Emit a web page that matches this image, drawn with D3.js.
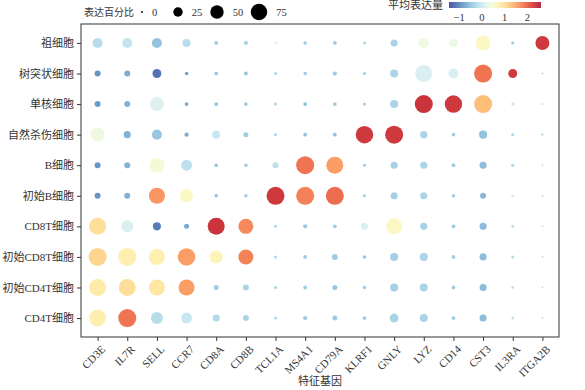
<!DOCTYPE html>
<html>
<head>
<meta charset="utf-8">
<script src="https://cdn.jsdelivr.net/npm/d3@7"></script>
<style>
  body { margin: 0; background: #fff; }
  text { font-family: "Liberation Serif", "Noto Sans CJK SC", serif; fill: #333; }
</style>
</head>
<body>
<svg id="drawing_region"></svg>
<script>
const genes = ['CD3E','IL7R','SELL','CCR7','CD8A','CD8B','TCL1A','MS4A1','CD79A','KLRF1','GNLY','LYZ','CD14','CST3','IL3RA','ITGA2B'];
const cells = ['祖细胞','树突状细胞','单核细胞','自然杀伤细胞','B细胞','初始B细胞','CD8T细胞','初始CD8T细胞','初始CD4T细胞','CD4T细胞'];

// percent of cells expressing, one row per cell type
const pct = [
  [28, 28, 28, 18, 4, 5, 1, 3.5, 4, 2.5, 14, 28, 18, 62, 2.5, 54],
  [10, 10, 22, 3.5, 3.5, 4, 2.5, 3.5, 5, 2.5, 18, 80, 28, 90, 22, 1],
  [10, 10, 54, 4, 4, 4, 2.5, 4, 4, 2.5, 18, 90, 85, 90, 2.5, 1],
  [54, 14, 28, 5, 18, 7, 2.5, 4, 4, 85, 90, 15, 3.5, 18, 2.5, 1.5],
  [10, 10, 62, 33, 3.5, 3.5, 10, 90, 80, 2.5, 14, 14, 4, 14, 2.5, 1],
  [10, 10, 71, 47, 3.5, 3.5, 90, 90, 90, 2.5, 14, 14, 3.5, 10, 2.5, 1],
  [80, 40, 18, 7, 80, 62, 2.5, 5, 4, 14, 71, 14, 4, 14, 2, 1],
  [90, 90, 71, 85, 47, 62, 2.5, 4, 10, 3.5, 18, 18, 4, 14, 2.5, 1],
  [80, 80, 71, 71, 7, 10, 2.5, 4, 7, 3.5, 18, 18, 4, 14, 2, 1],
  [80, 90, 40, 33, 14, 10, 2.5, 5, 7, 4, 22, 18, 4, 14, 2, 1]
];

// mean expression (scaled)
const expr = [
  [-0.2, -0.1, -0.5, -0.2, -0.4, -0.3, 0.0, -0.4, -0.4, -0.3, -0.3, 0.35, 0.3, 0.6, -0.4, 2.3],
  [-0.9, -0.7, -1.15, -0.8, -0.5, -0.5, -0.3, -0.4, -0.4, -0.4, -0.3, 0.1, 0.1, 1.85, 2.3, -0.2],
  [-0.85, -0.65, 0.15, -0.7, -0.5, -0.4, -0.3, -0.5, -0.4, -0.4, -0.3, 2.35, 2.3, 1.3, -0.1, -0.2],
  [0.35, -0.65, -0.45, -0.7, -0.05, -0.4, -0.3, -0.5, -0.5, 2.3, 2.3, -0.3, -0.4, -0.5, -0.3, -0.2],
  [-0.9, -0.65, 0.45, -0.15, -0.5, -0.4, -0.15, 1.85, 1.55, -0.4, -0.35, -0.3, -0.4, -0.55, -0.3, -0.2],
  [-0.9, -0.65, 1.6, 0.6, -0.5, -0.4, 2.3, 1.75, 1.9, -0.4, -0.35, -0.3, -0.4, -0.6, 0.05, -0.2],
  [1.0, 0.1, -1.1, -0.7, 2.35, 1.7, -0.3, -0.4, -0.4, 0.1, 0.6, -0.35, -0.4, -0.55, -0.2, -0.15],
  [1.1, 0.8, 0.8, 1.55, 0.7, 1.75, -0.3, -0.4, -0.4, -0.45, -0.35, -0.3, -0.4, -0.55, -0.25, -0.15],
  [0.85, 1.0, 0.9, 1.55, -0.4, -0.3, -0.3, -0.4, -0.45, -0.4, -0.35, -0.3, -0.4, -0.55, -0.2, -0.15],
  [0.8, 1.85, -0.2, -0.05, -0.25, -0.3, -0.3, -0.4, -0.4, -0.4, -0.3, -0.3, -0.4, -0.55, -0.2, -0.15]
];

const sizeTicks = [0, 25, 50, 75];
const colorTicks = [-1, 0, 1, 2];
const colorDomain = [-1.45, 2.6];

const width = 585, height = 390;
const margin = {top: 24, right: 26, bottom: 53, left: 81};
const innerW = width - margin.left - margin.right;
const innerH = height - margin.top - margin.bottom;

const svg = d3.select('#drawing_region')
    .attr('width', width)
    .attr('height', height);

const chart = svg.append('g')
    .attr('transform', `translate(${margin.left}, ${margin.top})`);

const xscale = d3.scalePoint().domain(genes).range([0, innerW]).padding(0.56);
const yscale = d3.scalePoint().domain(cells).range([0, innerH]).padding(0.62);
const rscale = d3.scaleSqrt().domain([0, 100]).range([0, 9.5]);
const cscale = d3.scaleSequential(t => d3.interpolateRdYlBu(1 - t)).domain(colorDomain);

const data = [];
cells.forEach((c, i) => genes.forEach((g, j) => {
    data.push({cell: c, gene: g, pct: pct[i][j], expr: expr[i][j]});
}));

chart.selectAll('circle.dot')
    .data(data)
    .enter()
    .append('circle')
    .attr('class', 'dot')
    .attr('cx', d => xscale(d.gene))
    .attr('cy', d => yscale(d.cell))
    .attr('r', d => Math.max(rscale(d.pct), 0.8))
    .attr('fill', d => cscale(d.expr))
    .attr('fill-opacity', 0.9);

// frame
chart.append('rect')
    .attr('width', innerW)
    .attr('height', innerH)
    .attr('fill', 'none')
    .attr('stroke', '#333')
    .attr('stroke-width', 1);

// axes
const xaxis = d3.axisBottom(xscale).tickSize(4).tickSizeOuter(0);
const yaxis = d3.axisLeft(yscale).tickSize(4).tickSizeOuter(0);

const xg = chart.append('g')
    .attr('transform', `translate(0, ${innerH})`)
    .call(xaxis);
xg.select('.domain').remove();
xg.selectAll('line').attr('stroke', '#333');
xg.selectAll('text')
    .attr('font-size', 11)
    .attr('fill', '#222')
    .attr('text-anchor', 'end')
    .attr('dx', 0)
    .attr('dy', 0)
    .attr('transform', 'translate(3, 8) rotate(-45)');

const yg = chart.append('g').call(yaxis);
yg.select('.domain').remove();
yg.selectAll('line').attr('stroke', '#333');
yg.selectAll('text').attr('font-size', 11).attr('fill', '#222').attr('x', -7);

chart.append('text')
    .attr('x', innerW / 2)
    .attr('y', innerH + 48)
    .attr('text-anchor', 'middle')
    .attr('font-size', 11)
    .text('特征基因');

// size legend
const sizeLegend = svg.append('g').attr('transform', 'translate(0, 12)');
sizeLegend.append('text')
    .attr('x', 84).attr('y', 0).attr('dy', '0.35em')
    .attr('font-size', 10)
    .text('表达百分比');
const sizePos = [142, 178, 217, 259];
sizeLegend.selectAll('circle')
    .data(sizeTicks)
    .enter()
    .append('circle')
    .attr('cx', (d, i) => sizePos[i])
    .attr('cy', 0)
    .attr('r', d => Math.max(rscale(d), 0.9))
    .attr('fill', '#000');
sizeLegend.selectAll('text.lbl')
    .data(sizeTicks)
    .enter()
    .append('text')
    .attr('class', 'lbl')
    .attr('x', (d, i) => sizePos[i] + Math.max(rscale(d), 0.9) + 9)
    .attr('y', 0).attr('dy', '0.35em')
    .attr('font-size', 10.5)
    .text(d => d);

// colour bar
const cbX = 449, cbW = 92, cbY = 2, cbH = 6;
const defs = svg.append('defs');
const grad = defs.append('linearGradient').attr('id', 'cbar');
d3.range(0, 1.0001, 0.05).forEach(t => {
    grad.append('stop')
        .attr('offset', t)
        .attr('stop-color', cscale(colorDomain[0] + t * (colorDomain[1] - colorDomain[0])));
});
svg.append('rect')
    .attr('x', cbX).attr('y', cbY)
    .attr('width', cbW).attr('height', cbH)
    .attr('fill', 'url(#cbar)')
    .attr('fill-opacity', 0.85);
svg.append('text')
    .attr('x', cbX - 6).attr('y', 5).attr('dy', '0.35em')
    .attr('text-anchor', 'end')
    .attr('font-size', 11)
    .text('平均表达量');
const cbScale = d3.scaleLinear().domain(colorDomain).range([cbX, cbX + cbW]);
svg.selectAll('text.cbt')
    .data(colorTicks)
    .enter()
    .append('text')
    .attr('class', 'cbt')
    .attr('x', d => cbScale(d))
    .attr('y', 17).attr('dy', '0.35em')
    .attr('text-anchor', 'middle')
    .attr('font-size', 10.5)
    .text(d => d < 0 ? '\u2212' + Math.abs(d) : d);
</script>
</body>
</html>
